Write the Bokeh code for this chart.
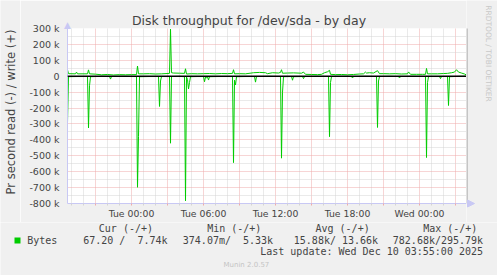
from math import pi
import numpy as np
from bokeh.plotting import figure
from bokeh.layouts import row, column
from bokeh.models import FixedTicker, Label, Span, Range1d
from bokeh.embed import file_html
from bokeh.resources import INLINE

# ---------------- data (kB per second) ----------------
read_times = [
    "Mon 18:40", "Mon 18:45", "Mon 19:30", "Mon 20:20", "Mon 20:25", "Mon 20:30", "Mon 20:35",
    "Mon 21:30", "Mon 22:10", "Mon 22:15", "Mon 22:20", "Mon 23:15",
    "Tue 00:00", "Tue 00:25", "Tue 00:30", "Tue 00:35", "Tue 00:40", "Tue 01:30",
    "Tue 02:15", "Tue 02:20", "Tue 02:25", "Tue 02:30", "Tue 03:10", "Tue 03:15", "Tue 03:20",
    "Tue 04:00", "Tue 04:25", "Tue 04:30", "Tue 04:35", "Tue 04:40", "Tue 04:45", "Tue 04:50",
    "Tue 04:55", "Tue 05:30", "Tue 06:00", "Tue 06:05", "Tue 06:10", "Tue 06:15", "Tue 06:20",
    "Tue 06:25", "Tue 06:30", "Tue 07:15", "Tue 08:25", "Tue 08:30", "Tue 08:35", "Tue 08:40",
    "Tue 08:45", "Tue 09:30", "Tue 10:15", "Tue 10:20", "Tue 10:25", "Tue 11:30",
    "Tue 12:25", "Tue 12:30", "Tue 12:35", "Tue 12:40", "Tue 13:20", "Tue 13:25", "Tue 13:30",
    "Tue 14:15", "Tue 14:20", "Tue 14:25", "Tue 15:30", "Tue 16:25", "Tue 16:30", "Tue 16:35",
    "Tue 16:40", "Tue 17:30", "Tue 18:20", "Tue 18:25", "Tue 18:30", "Tue 19:30",
    "Tue 20:25", "Tue 20:30", "Tue 20:35", "Tue 20:40", "Tue 21:30", "Tue 22:15", "Tue 22:20",
    "Tue 22:25", "Tue 23:30", "Wed 00:30", "Wed 00:35", "Wed 00:40", "Wed 00:45",
    "Wed 01:40", "Wed 01:45", "Wed 01:50", "Wed 02:20", "Wed 02:25", "Wed 02:30",
    "Wed 03:15", "Wed 03:55",
]
read_kbytes = [
    293, 3, 2, 2, 325, 60, 3,
    1, 1, 18, 2, 1,
    2, 2, 698, 380, 3, 2,
    2, 190, 30, 2, 2, 421, 2,
    1, 3, 783, 5, 20, 80, 40,
    3, 2, 2, 35, 5, 12, 4,
    24, 3, 2, 2, 543, 25, 55,
    3, 2, 2, 37, 2, 1,
    2, 515, 100, 3, 2, 25, 3,
    2, 15, 2, 1, 2, 380, 40,
    2, 1, 2, 11, 2, 1,
    2, 322, 30, 2, 1, 2, 11,
    2, 1, 2, 511, 40, 2,
    2, 15, 2, 2, 184, 3,
    1, 0.0672,
]

write_times = [
    "Mon 18:40", "Mon 18:45", "Mon 19:20", "Mon 19:25", "Mon 19:30", "Mon 20:20", "Mon 20:25",
    "Mon 20:30", "Mon 21:00", "Mon 21:30", "Mon 22:00", "Mon 22:30", "Mon 23:00", "Mon 23:30",
    "Tue 00:00", "Tue 00:25", "Tue 00:30", "Tue 00:35", "Tue 01:00", "Tue 01:30", "Tue 02:00",
    "Tue 02:30", "Tue 03:10", "Tue 03:15", "Tue 03:20", "Tue 03:30", "Tue 04:00", "Tue 04:25",
    "Tue 04:30", "Tue 04:35", "Tue 05:00", "Tue 05:30", "Tue 06:00", "Tue 06:30", "Tue 07:00",
    "Tue 07:30", "Tue 08:00", "Tue 08:25", "Tue 08:30", "Tue 08:35", "Tue 09:00", "Tue 09:30",
    "Tue 10:10", "Tue 10:40", "Tue 11:10", "Tue 11:20", "Tue 11:45", "Tue 12:15", "Tue 12:25",
    "Tue 12:30", "Tue 12:35", "Tue 13:00", "Tue 13:30", "Tue 14:10", "Tue 14:20", "Tue 14:30",
    "Tue 15:00", "Tue 15:30", "Tue 15:50", "Tue 16:05", "Tue 16:20", "Tue 16:30", "Tue 16:35",
    "Tue 17:00", "Tue 17:30", "Tue 18:00", "Tue 18:30", "Tue 19:00", "Tue 19:20", "Tue 19:30",
    "Tue 19:35", "Tue 19:50", "Tue 20:10", "Tue 20:30", "Tue 20:40", "Tue 21:00", "Tue 21:30",
    "Tue 22:00", "Tue 22:30", "Tue 23:00", "Tue 23:05", "Tue 23:15", "Tue 23:45", "Wed 00:15",
    "Wed 00:30", "Wed 00:35", "Wed 00:40", "Wed 01:00", "Wed 01:30", "Wed 02:00", "Wed 02:20",
    "Wed 02:40", "Wed 02:55", "Wed 03:05", "Wed 03:15", "Wed 03:30", "Wed 03:45", "Wed 03:55",
]
write_kbytes = [
    40, 16, 15, 26, 15, 15, 40,
    15, 13, 9, 11, 8, 10, 9,
    10, 10, 64, 15, 15, 16, 14,
    15, 18, 296, 22, 20, 19, 18,
    47, 14, 16, 15, 16, 17, 15,
    17, 16, 18, 41, 15, 16, 15,
    22, 24, 22, 16, 22, 20, 24,
    41, 19, 20, 21, 19, 26, 12,
    11, 10, 12, 22, 28, 37, 12,
    10, 11, 9, 11, 14, 15, 26,
    20, 22, 20, 35, 16, 16, 15,
    16, 14, 15, 27, 12, 12, 12,
    12, 49, 15, 15, 15, 17, 18,
    22, 26, 41, 26, 20, 14, 7.74,
]

# axis ticks (hours relative to Tue 00:00)
x_major_hours = [-3, 0, 3, 6, 9, 12, 15, 18, 21, 24, 27]
x_major_labels = ["", "Tue 00:00", "", "Tue 06:00", "", "Tue 12:00", "", "Tue 18:00", "",
                  "Wed 00:00", ""]
x_minor_hours = [-5, -4, -2, -1, 1, 2, 4, 5, 7, 8, 10, 11, 13, 14, 16, 17, 19, 20, 22, 23,
                 25, 26]
y_major_values = [-800000, -700000, -600000, -500000, -400000, -300000, -200000, -100000,
                  0, 100000, 200000, 300000]
y_major_labels = ["-800 k", "-700 k", "-600 k", "-500 k", "-400 k", "-300 k", "-200 k",
                  "-100 k", "0", "100 k", "200 k", "300 k"]
y_minor_values = [-750000, -650000, -550000, -450000, -350000, -250000, -150000, -50000,
                  50000, 150000, 250000]

title_text = "Disk throughput for /dev/sda - by day"
ylabel_text = "Pr second read (-) / write (+)"
legend_headers = ["Cur (-/+)", "Min (-/+)", "Avg (-/+)", "Max (-/+)"]
legend_values = ["67.20 /  7.74k", "374.07m/  5.33k", "15.88k/ 13.66k", "782.68k/295.79k"]
series_name = "Bytes"
last_update = "Last update: Wed Dec 10 03:55:00 2025"
footer = "Munin 2.0.57"
watermark = "RRDTOOL / TOBI OETIKER"

# ---------------- helpers ----------------
DAY_OFFSET = {"Mon": -24, "Tue": 0, "Wed": 24}


def to_hours(s):
    d, hm = s.split()
    h, m = hm.split(":")
    return DAY_OFFSET[d] + int(h) + int(m) / 60.0


read_x = np.array([to_hours(t) for t in read_times])
read_y = -np.array(read_kbytes) * 1000.0
write_x = np.array([to_hours(t) for t in write_times])
write_y = np.array(write_kbytes) * 1000.0

X_START, X_END = to_hours("Mon 18:40"), to_hours("Wed 03:55")
Y_START, Y_END = -800000, 300000

# page geometry (pixels)
W, H = 497, 275
LEFT_W = 20          # left strip (y label)
FL, FR = 67, 466     # frame left/right
FT, FB = 28, 203     # frame top/bottom
LEG_TOP = 222        # legend strip top

BG = "#F0F0F0"
GREEN = "#00CC00"
MAJ = "#EFAAAA"
MIN = "#D4D4D4"
AXIS = "#C8C8F4"
TXT = "#444444"


def page_to_x(px):
    return X_START + (px - FL) * (X_END - X_START) / (FR - FL)


def page_to_y(py):
    return Y_END + (FT - py) * (Y_END - Y_START) / (FB - FT)


def strip(x0, x1, y0, y1):
    """Figure whose data coordinates are page pixels (y grows downward)."""
    f = figure(width=x1 - x0, height=y1 - y0, output_backend="svg", toolbar_location=None,
               title=None, frame_align=False,
               x_range=Range1d(x0, x1), y_range=Range1d(y1, y0),
               x_axis_type=None, y_axis_type=None, min_border=0,
               outline_line_color=None, background_fill_color=BG, border_fill_color=BG)
    f.grid.visible = False
    return f


def keep_spaces(s):
    # SVG collapses runs of spaces; keep the monospaced column layout
    return s.replace("  ", " \u00a0")


def label(f, text, x, y, size, font="DejaVu Sans", color=TXT, align="left", angle=0.0,
          place=None):
    lab = Label(x=x, y=y, text=text, text_font=font, text_font_size=size,
                text_color=color, text_align=align, text_baseline="middle", angle=angle)
    if place is None:
        f.add_layout(lab)
    else:
        f.add_layout(lab, place)


# ---------------- main chart ----------------
p = figure(width=FR - LEFT_W, height=LEG_TOP, output_backend="svg", toolbar_location=None,
           title=None, frame_align=False,
           x_range=Range1d(X_START, X_END), y_range=Range1d(Y_START, Y_END),
           min_border_left=FL - LEFT_W, min_border_right=0, min_border_top=FT,
           min_border_bottom=LEG_TOP - FB,
           border_fill_color=BG, background_fill_color="white", outline_line_color=None)

xa = p.xaxis[0]
xa.ticker = FixedTicker(ticks=x_major_hours, minor_ticks=x_minor_hours)
xa.major_label_overrides = dict(zip(x_major_hours, x_major_labels))
xa.axis_line_color = AXIS
xa.major_tick_in = 0
xa.major_tick_out = 2
xa.major_tick_line_color = MAJ
xa.minor_tick_in = 0
xa.minor_tick_out = 2
xa.minor_tick_line_color = MIN
xa.major_label_standoff = 2
xa.major_label_text_font = "DejaVu Sans"
xa.major_label_text_font_size = "9.3px"
xa.major_label_text_color = TXT

ya = p.yaxis[0]
ya.ticker = FixedTicker(ticks=y_major_values, minor_ticks=y_minor_values)
ya.major_label_overrides = dict(zip(y_major_values, y_major_labels))
ya.axis_line_color = AXIS
ya.major_tick_in = 0
ya.major_tick_out = 0
ya.minor_tick_in = 0
ya.minor_tick_out = 0
ya.major_label_standoff = 8
ya.major_label_text_font = "DejaVu Sans"
ya.major_label_text_font_size = "9.5px"
ya.major_label_text_color = TXT

for g in (p.xgrid[0], p.ygrid[0]):
    g.grid_line_color = MAJ
    g.grid_line_dash = "1 1"
    g.grid_line_width = 1
    g.minor_grid_line_color = MIN
    g.minor_grid_line_dash = "1 1"
    g.minor_grid_line_width = 1

p.line(read_x, read_y, line_color=GREEN, line_width=1)
p.add_layout(Span(location=0, dimension="width", line_color="black", line_width=1.3))
p.line(write_x, write_y, line_color=GREEN, line_width=1)

# title and axis arrow head live in the (unclipped) panel above the frame
label(p, title_text, page_to_x(248.5), page_to_y(19.5), "12.5px", align="center",
      place="above")
label(p, "\u25b2", page_to_x(67.0), page_to_y(24.0), "9px", color=AXIS, align="center",
      place="above")

# ---------------- surrounding strips ----------------
left = strip(0, LEFT_W, 0, LEG_TOP)
label(left, ylabel_text, 10.5, 111.5, "11.5px", align="center", angle=pi / 2)

right = strip(FR, W, 0, LEG_TOP)
right.segment(x0=[FR + 0.5], y0=[FT], x1=[FR + 0.5], y1=[FB], line_color="#9A9A9A",
              line_width=1)
right.patch([FR + 1, FR + 1, FR + 8], [FB - 3.5, FB + 3.5, FB], fill_color=AXIS,
            line_color=AXIS)
label(right, watermark, 487.5, 53, "7.5px", color="#C8C8C8", align="center", angle=-pi / 2)

leg = strip(0, W, LEG_TOP, H)
header_x = [98.3, 206.7, 315.0, 422.7]
value_x = [82.7, 182.3, 293.3, 392.3]
for t, x in zip(legend_headers, header_x):
    label(leg, t, x, 228, "10px", font="DejaVu Sans Mono")
for t, x in zip(legend_values, value_x):
    label(leg, keep_spaces(t), x, 240, "10px", font="DejaVu Sans Mono")
label(leg, series_name, 26.7, 240, "10px", font="DejaVu Sans Mono")
label(leg, last_update, 482.5, 251, "10px", font="DejaVu Sans Mono", align="right")
label(leg, footer, 223, 264, "7px", color="#C4C4C4")
leg.quad(left=[14], right=[20], top=[237], bottom=[243], fill_color=GREEN, line_color=None)

layout = column(row(left, p, right), leg)

open("out.html", "w").write(file_html(layout, INLINE))
